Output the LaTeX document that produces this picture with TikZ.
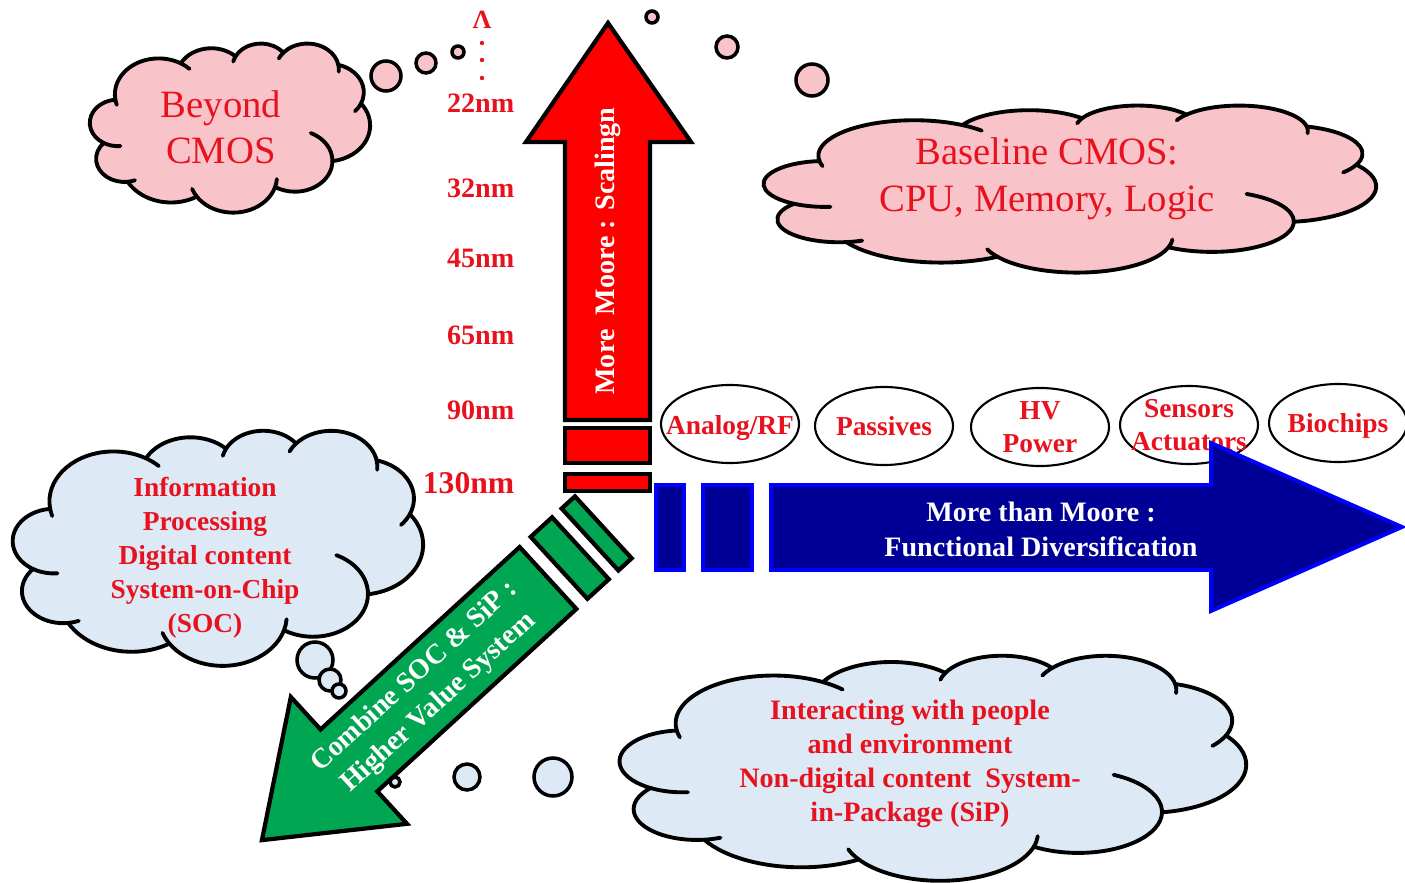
\documentclass[tikz,border=0pt]{standalone}
\usepackage{fontspec}
\setmainfont{Liberation Serif}
\usetikzlibrary{shapes.geometric}

\definecolor{txtred}{RGB}{232,18,30}
\definecolor{arrred}{RGB}{255,0,0}
\definecolor{cloudpink}{RGB}{249,195,202}
\definecolor{cloudblue}{RGB}{221,234,246}
\definecolor{navyblue}{RGB}{0,0,150}
\definecolor{brightblue}{RGB}{0,0,255}
\definecolor{arrgreen}{RGB}{0,166,81}

\tikzset{
 cloudline/.style={draw=black, line width=1.1pt, line join=round, line cap=round},
 bubble/.style={draw=black, line width=1pt},
 techring/.style={ellipse, draw=black, line width=0.6pt, minimum width=13.8mm,
   minimum height=7.8mm, inner sep=0pt},
 techtxt/.style={text=txtred, align=center, font=\bfseries\fontsize{7.8}{9.5}\selectfont},
 cloudtxt/.style={text=txtred, align=center, font=\bfseries\fontsize{7.8}{9.7}\selectfont},
 nm/.style={anchor=east, inner sep=0pt, text=txtred, font=\bfseries\fontsize{8}{9.6}\selectfont},
 arrtxt/.style={text=white, align=center, font=\bfseries\fontsize{8}{10}\selectfont},
 rarrow/.style={fill=arrred, draw=black, line width=1.2pt},
 barrow/.style={fill=navyblue, draw=brightblue, line width=1.1pt},
 garrow/.style={fill=arrgreen, draw=black, line width=1.2pt}
}

% cloud outline on a 432 x 432 grid: #1,#2 top left corner, #3,#4 unit vectors, #5 fill
\newcommand{\pptcloud}[5]{%
 \begin{scope}[shift={(#1,#2)}, x=#3, y=#4]
  \draw[cloudline, fill=#5] (39,143.7)
    arc[start angle=-187.75, end angle=-59.66, x radius=67.53, y radius=91.9]
    arc[start angle=-152.02, end angle=-45.44, x radius=53.33, y radius=72.67]
    arc[start angle=-153.48, end angle=-37.32, x radius=43.65, y radius=59.45]
    arc[start angle=-139.71, end angle=-10.21, x radius=48.57, y radius=65.95]
    arc[start angle=-74.77, end angle=23.21, x radius=53.33, y radius=72.73]
    arc[start angle=-37.53, end angle=81.86, x radius=67.75, y radius=92.2]
    arc[start angle=0.46, end angle=121.95, x radius=57.85, y radius=78.67]
    arc[start angle=16.84, end angle=146.24, x radius=67.52, y radius=92.15]
    arc[start angle=59.01, end angle=150.17, x radius=77.2, y radius=105.43]
    arc[start angle=-276.7, end angle=-136.9, x radius=43.6, y radius=59.18]
    arc[start angle=-239.66, end angle=-95.89, x radius=43.45, y radius=59.45]
    -- cycle;
  % inner strokes
  \draw[cloudline] (21.18,255.54) arc[start angle=-239.66, end angle=-275, x radius=43.45, y radius=59.45]
    (58.1,354.75) arc[start angle=83.3, end angle=68, x radius=43.6, y radius=59.18]
    (164.81,392.67) arc[start angle=146.24, end angle=160, x radius=67.52, y radius=92.15]
    (285.56,368.16) arc[start angle=16.84, end angle=4, x radius=67.52, y radius=92.15]
    (374.02,302.03) arc[start angle=0.46, end angle=-65, x radius=57.85, y radius=78.67]
    (418.16,154.59) arc[start angle=23.21, end angle=42, x radius=53.33, y radius=72.73]
    (383.16,55.75) arc[start angle=-10.21, end angle=5, x radius=48.57, y radius=65.95]
    (298.31,24.8) arc[start angle=-139.71, end angle=-155, x radius=48.57, y radius=65.95]
    (224.54,34.3) arc[start angle=-153.48, end angle=-167, x radius=43.65, y radius=59.45]
    (140.02,51.99) arc[start angle=-59.66, end angle=-45, x radius=67.53, y radius=91.9]
    (39,143.7) arc[start angle=-187.75, end angle=-197, x radius=67.53, y radius=91.9];
 \end{scope}}

\begin{document}
\begin{tikzpicture}[x=0.1mm,y=-0.1mm]
 \useasboundingbox (0,0) rectangle (1405,883);

 % Thought bubbles
 \foreach \cx/\cy/\r in {386/76/15, 426/63/10, 458/52/6, 652/17/6, 727/47/11, 812/80/16}
   \draw[bubble, fill=cloudpink] (\cx,\cy) circle[radius=\r];
 \foreach \cx/\cy/\r in {315/660/18, 330/680/11, 339/691/7, 395/782/5, 467/777/13, 553/777/19}
   \draw[bubble, fill=cloudblue] (\cx,\cy) circle[radius=\r];

 % Clouds
 \pptcloud{90}{43}{0.064815mm}{-0.03912mm}{cloudpink}
 \pptcloud{764}{105}{0.141667mm}{-0.038657mm}{cloudpink}
 \pptcloud{13}{430}{0.094907mm}{-0.054398mm}{cloudblue}
 \pptcloud{620}{655}{0.144907mm}{-0.052083mm}{cloudblue}

 \node[text=txtred, align=center, font=\fontsize{11}{13.2}\selectfont] (beyondTxt) at (221,127) {Beyond\\CMOS};
 \node[text=txtred, align=center, font=\fontsize{11}{13.4}\selectfont] (baselineTxt) at (1047,179) {Baseline CMOS:\\CPU, Memory,\ Logic};
 \node[cloudtxt] (socTxt) at (205,558) {Information\\Processing\\Digital content\\System-on-Chip\\(SOC)};
 \node[cloudtxt, font=\bfseries\fontsize{8}{9.7}\selectfont] (sipTxt) at (910,764)
   {Interacting with people\\and environment\\Non-digital content\ \ System-\\in-Package (SiP)};

 % Technology nodes
 \node[techring] (analog) at (730,424) {};
 \node[techring] (passive) at (884,426) {};
 \node[techring] (hv) at (1040,427) {};
 \node[techring] (sensor) at (1189,425) {};
 \node[techring] (bio) at (1338,423) {};
 \node[techtxt] (analogTxt) at (730,428) {Analog/RF};
 \node[techtxt] (passiveTxt) at (passive) {Passives};
 \node[techtxt] (hvTxt) at (hv) {HV\\Power};
 \node[techtxt] (sensorTxt) at (sensor) {Sensors\\Actuators};
 \node[techtxt] (bioTxt) at (1338,426) {Biochips};

 % More Moore arrow
 \draw[rarrow] (565,420) -- (565,142) -- (526,142) -- (608,23) -- (691,142) -- (650,142) -- (650,420) -- cycle;
 \draw[rarrow] (565,428) rectangle (650,463);
 \draw[rarrow] (565,474) rectangle (650,491);
 \node[arrtxt, rotate=90] (mooreTxt) at (608,251) {More\ \ Moore : Scalingn};

 % More than Moore arrow
 \draw[barrow] (771,485) -- (1211,485) -- (1211,443) -- (1402,527) -- (1211,611) -- (1211,570) -- (771,570) -- cycle;
 \draw[barrow] (656,485) rectangle (684,570);
 \draw[barrow] (703,485) rectangle (752,570);
 \node[arrtxt] (divTxt) at (1041,529) {More than Moore :\\Functional Diversification};

 % Combine arrow
 \begin{scope}[shift={(548,578)}, rotate=222.5]
  \draw[garrow] (0,-42) -- (270,-42) -- (270,-86) -- (388,0) -- (270,86) -- (270,42) -- (0,42) -- cycle;
  \draw[garrow] (-15,-42) rectangle (-44,42);
  \draw[garrow] (-57,-42) rectangle (-75,42);
 \end{scope}
 \node[arrtxt, rotate=42.5] (combTxt) at (427,690) {Combine SOC \& SiP :\\Higher Value System};

 % Node labels
 \node[text=txtred, font=\bfseries\fontsize{7.5}{8}\selectfont, inner sep=0pt] (lam) at (482,20) {Λ};
 \foreach \dy in {43,60,78}
   \fill[txtred] (482,\dy) circle[radius=2.2];
 \node[nm] (n22) at (515,103) {22nm};
 \node[nm] (n32) at (515,188) {32nm};
 \node[nm] (n45) at (515,258) {45nm};
 \node[nm] (n65) at (515,335) {65nm};
 \node[nm] (n90) at (515,410) {90nm};
 \node[nm, font=\bfseries\fontsize{9}{10.8}\selectfont] (n130) at (515,483) {130nm};
\end{tikzpicture}
\end{document}
